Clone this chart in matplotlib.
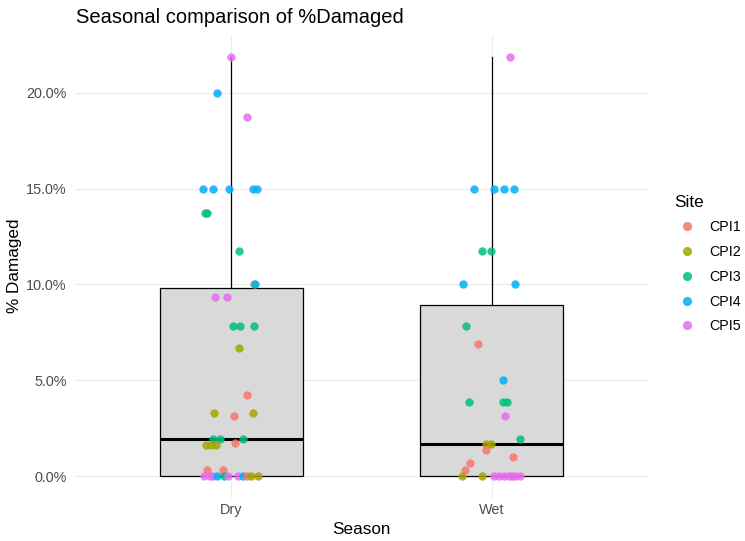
import matplotlib
matplotlib.use('Agg')
import matplotlib.pyplot as plt
from matplotlib.lines import Line2D

plt.rcParams['font.family'] = ['Liberation Sans', 'DejaVu Sans']

# categories and site colours
seasons = ['Dry', 'Wet']
sites = ['CPI1', 'CPI2', 'CPI3', 'CPI4', 'CPI5']
site_colors = ['#F8766D', '#A3A500', '#00BF7D', '#00B0F6', '#E76BF3']

# box statistics (% damaged)
box_q1 = [0.0, 0.0]
box_med = [1.93, 1.67]
box_q3 = [9.84, 8.92]
box_lo = [0.0, 0.0]
box_hi = [21.875, 21.875]

# jittered points: site, % damaged, horizontal jitter (category units)
dry_site = ['CPI5', 'CPI4', 'CPI5',
            'CPI4', 'CPI4', 'CPI4', 'CPI4', 'CPI4',
            'CPI3', 'CPI3', 'CPI3',
            'CPI2', 'CPI4',
            'CPI5', 'CPI5',
            'CPI3', 'CPI3', 'CPI3',
            'CPI2', 'CPI1',
            'CPI2', 'CPI2', 'CPI1',
            'CPI3', 'CPI3', 'CPI3', 'CPI1',
            'CPI2', 'CPI2', 'CPI2',
            'CPI1', 'CPI1',
            'CPI5', 'CPI5', 'CPI5', 'CPI4', 'CPI3', 'CPI5', 'CPI5', 'CPI4',
            'CPI1', 'CPI2', 'CPI2']
dry_val = [21.875, 20.0, 18.75,
           15.0, 15.0, 15.0, 15.0, 15.0,
           13.7, 13.7, 11.73,
           10.0, 10.0,
           9.36, 9.36,
           7.83, 7.83, 7.83,
           6.67, 4.22,
           3.32, 3.32, 3.14,
           1.93, 1.93, 1.93, 1.75,
           1.65, 1.65, 1.65,
           0.36, 0.36,
           0.0, 0.0, 0.0, 0.0, 0.0, 0.0, 0.0, 0.0,
           0.0, 0.0, 0.0]
dry_jit = [0.0, -0.056, 0.061,
           -0.107, -0.071, -0.009, 0.084, 0.100,
           -0.099, -0.095, 0.028,
           0.086, 0.092,
           -0.061, -0.017,
           0.008, 0.033, 0.088,
           0.030, 0.061,
           -0.065, 0.083, 0.009,
           -0.069, -0.045, 0.045, 0.014,
           -0.098, -0.078, -0.060,
           -0.092, -0.032,
           -0.104, -0.082, -0.069, -0.056, -0.028, -0.011, 0.027, 0.046,
           0.059, 0.076, 0.104]

wet_site = ['CPI5',
            'CPI4', 'CPI4', 'CPI4', 'CPI4',
            'CPI3', 'CPI3',
            'CPI4', 'CPI4',
            'CPI3', 'CPI1', 'CPI4',
            'CPI3', 'CPI3', 'CPI3', 'CPI5',
            'CPI3', 'CPI2', 'CPI2', 'CPI1', 'CPI1', 'CPI1', 'CPI1',
            'CPI2', 'CPI2', 'CPI1',
            'CPI5', 'CPI5', 'CPI5', 'CPI5', 'CPI5', 'CPI5']
wet_val = [21.875,
           15.0, 15.0, 15.0, 15.0,
           11.73, 11.73,
           10.0, 10.0,
           7.83, 6.89, 5.0,
           3.9, 3.9, 3.9, 3.125,
           1.94, 1.67, 1.67, 1.39, 1.04, 0.71, 0.36,
           0.0, 0.0, 0.0,
           0.0, 0.0, 0.0, 0.0, 0.0, 0.0]
wet_jit = [0.069,
           -0.067, 0.008, 0.046, 0.084,
           -0.038, -0.003,
           -0.111, 0.088,
           -0.098, -0.052, 0.044,
           -0.088, 0.043, 0.058, 0.051,
           0.108, -0.023, -0.003, -0.023, 0.083, -0.084, -0.104,
           -0.114, -0.039, 0.076,
           0.010, 0.028, 0.048, 0.067, 0.089, 0.108]

W, H = 745, 541
fig = plt.figure(figsize=(W / 100, H / 100), dpi=100)
ax = fig.add_axes([75 / W, 1 - 497.5 / H, 573 / W, 462 / H])

stats = []
for i in range(len(seasons)):
    stats.append(dict(med=box_med[i], q1=box_q1[i], q3=box_q3[i],
                      whislo=box_lo[i], whishi=box_hi[i], fliers=[]))
ax.bxp(stats, positions=[1, 2], widths=0.55, patch_artist=True,
       showcaps=False, showfliers=False,
       boxprops=dict(facecolor='#D9D9D9', edgecolor='black', linewidth=0.9),
       whiskerprops=dict(color='black', linewidth=0.9),
       medianprops=dict(color='black', linewidth=2.2), zorder=2)

color_of = dict(zip(sites, site_colors))
for pos, ss, vv, jj in [(1, dry_site, dry_val, dry_jit), (2, wet_site, wet_val, wet_jit)]:
    for s, v, j in zip(ss, vv, jj):
        ax.scatter(pos + j, v, s=36, color=color_of[s], alpha=0.85,
                   linewidths=0, zorder=3)

ax.set_xlim(0.4, 2.6)
ax.set_ylim(-1.094, 22.969)
ax.set_xticks([1, 2])
ax.set_xticklabels(seasons)
ax.set_yticks([0, 5, 10, 15, 20])
ax.set_yticklabels(['0.0%', '5.0%', '10.0%', '15.0%', '20.0%'])
ax.tick_params(length=0, labelsize=10.4, labelcolor='#4D4D4D')
ax.tick_params(axis='x', pad=4)
ax.tick_params(axis='y', pad=6)
ax.grid(True, color='#EBEBEB', linewidth=0.8, zorder=0)
ax.set_axisbelow(True)
for sp in ax.spines.values():
    sp.set_visible(False)

fig.text(76 / W, 1 - 22.7 / H, 'Seasonal comparison of %Damaged',
         fontsize=14.5, ha='left', va='baseline')
fig.text(361.5 / W, 1 - 530 / H, 'Season', fontsize=12.3, ha='center', va='center')
fig.text(15 / W, 1 - 266 / H, '% Damaged', fontsize=12.3, rotation=90,
         ha='center', va='center')

handles = [Line2D([], [], marker='o', linestyle='', markersize=6.6,
                  markerfacecolor=c, markeredgewidth=0, alpha=0.85)
           for c in site_colors]
leg = fig.legend(handles, sites, title='Site', loc='center left',
                 bbox_to_anchor=(674 / W, 1 - 264 / H), frameon=False,
                 fontsize=10.3, title_fontsize=12.3, labelspacing=0.75,
                 handlelength=1.82, handletextpad=0.63, borderpad=0,
                 borderaxespad=0, alignment='left')

fig.savefig('out.png', dpi=100)
